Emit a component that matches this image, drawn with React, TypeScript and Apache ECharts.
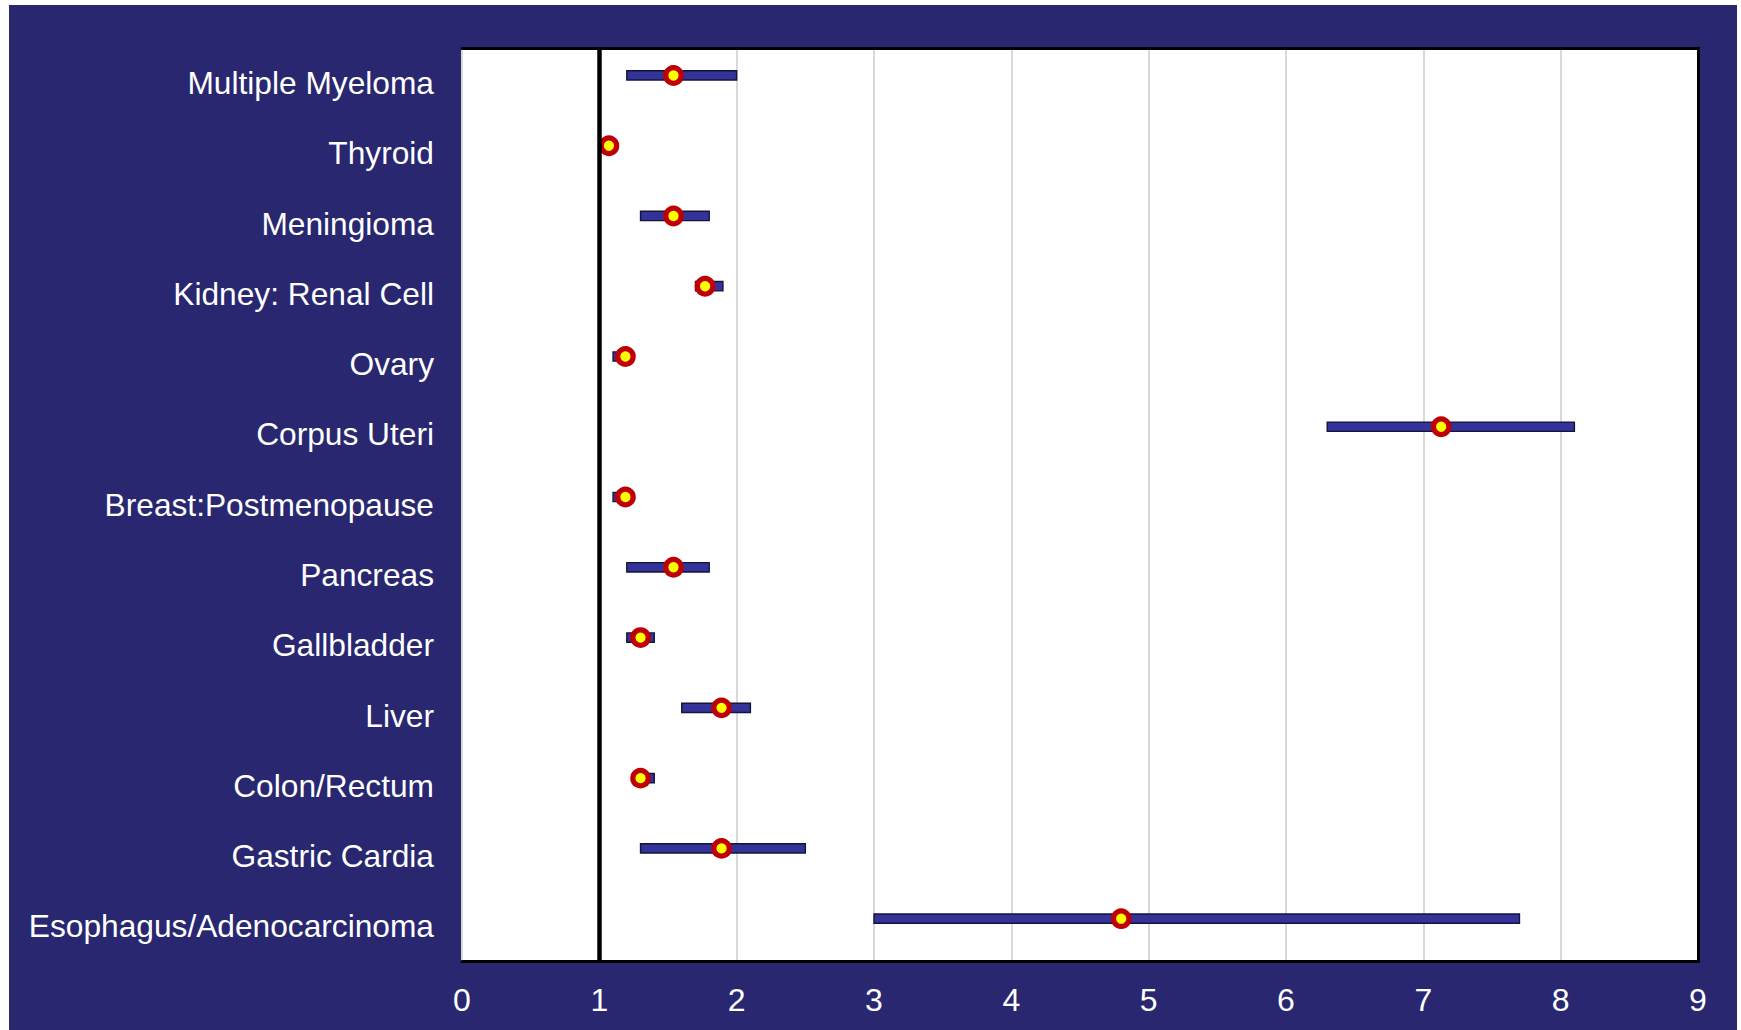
import React, { useEffect, useRef } from "react";
import * as echarts from "echarts";

// Cancer sites, top to bottom
const categories = [
  "Multiple Myeloma",
  "Thyroid",
  "Meningioma",
  "Kidney: Renal Cell",
  "Ovary",
  "Corpus Uteri",
  "Breast:Postmenopause",
  "Pancreas",
  "Gallbladder",
  "Liver",
  "Colon/Rectum",
  "Gastric Cardia",
  "Esophagus/Adenocarcinoma",
];

// Point estimate of relative risk per site
const riskEstimates = [1.54, 1.07, 1.54, 1.77, 1.19, 7.13, 1.19, 1.54, 1.3, 1.89, 1.3, 1.89, 4.8];

// Confidence interval bounds (null where no interval is drawn)
const ciLow: (number | null)[] = [1.2, null, 1.3, 1.7, 1.1, 6.3, 1.1, 1.2, 1.2, 1.6, 1.3, 1.3, 3.0];
const ciHigh: (number | null)[] = [2.0, null, 1.8, 1.9, 1.2, 8.1, 1.2, 1.8, 1.4, 2.1, 1.4, 2.5, 7.7];

// Horizontal axis range and reference value
const xMin = 0;
const xMax = 9;
const xStep = 1;
const referenceRisk = 1;

const NAVY = "#282770";
const FONT = "'Liberation Sans', Arial, Helvetica, sans-serif";

export default function App() {
  const ref = useRef<HTMLDivElement>(null);

  useEffect(() => {
    if (!ref.current) return;
    const chart = echarts.init(ref.current, undefined, { renderer: "svg" });

    const intervalData = categories
      .map((_, i) => [i, ciLow[i], ciHigh[i]])
      .filter((d) => d[1] != null && d[2] != null);

    const pointData = riskEstimates.map((v, i) => [v, i]);

    const option: any = {
      animation: false,
      backgroundColor: NAVY,
      textStyle: { fontFamily: FONT },
      grid: {
        left: 453,
        top: 43,
        width: 1236,
        height: 913.5,
        show: true,
        backgroundColor: "#ffffff",
        borderWidth: 0,
        containLabel: false,
      },
      xAxis: [
        {
          type: "value",
          position: "bottom",
          min: xMin,
          max: xMax,
          interval: xStep,
          axisLine: { show: true, lineStyle: { color: "#000000", width: 3 } },
          axisTick: { show: false },
          axisLabel: {
            color: "#ffffff",
            fontSize: 32,
            fontFamily: FONT,
            margin: 22,
          },
          splitLine: {
            show: true,
            showMaxLine: false,
            lineStyle: { color: "#d9d9d9", width: 2 },
          },
        },
        {
          type: "value",
          position: "top",
          min: xMin,
          max: xMax,
          interval: xStep,
          axisLine: { show: true, lineStyle: { color: "#000000", width: 3 } },
          axisTick: { show: false },
          axisLabel: { show: false },
          splitLine: { show: false },
        },
      ],
      yAxis: [
        {
          type: "category",
          data: categories,
          inverse: true,
          position: "left",
          axisLine: { show: false },
          axisTick: { show: false },
          splitLine: { show: false },
          axisLabel: {
            color: "#ffffff",
            fontSize: 31.7,
            fontFamily: FONT,
            margin: 28,
            align: "right",
          },
        },
        {
          type: "category",
          data: categories,
          inverse: true,
          position: "right",
          axisLine: { show: true, onZero: false, lineStyle: { color: "#000000", width: 3 } },
          axisTick: { show: false },
          axisLabel: { show: false },
          splitLine: { show: false },
        },
      ],
      series: [
        {
          type: "custom",
          name: "CI",
          xAxisIndex: 0,
          yAxisIndex: 0,
          z: 2,
          encode: { x: [1, 2], y: 0 },
          data: intervalData,
          renderItem: (params: any, api: any) => {
            const cat = api.value(0);
            const start = api.coord([api.value(1), cat]);
            const end = api.coord([api.value(2), cat]);
            const band = api.size([0, 1])[1];
            const h = band * 0.132;
            const off = -band * 0.11;
            return {
              type: "rect",
              shape: {
                x: start[0],
                y: start[1] + off - h / 2,
                width: end[0] - start[0],
                height: h,
              },
              style: {
                fill: "#333399",
                stroke: "#15153a",
                lineWidth: 1.4,
              },
            };
          },
          markLine: {
            silent: true,
            symbol: "none",
            label: { show: false },
            lineStyle: { color: "#000000", width: 4.5, type: "solid" },
            data: [{ xAxis: referenceRisk }],
          },
        },
        {
          type: "scatter",
          name: "Relative risk",
          xAxisIndex: 0,
          yAxisIndex: 0,
          z: 4,
          symbol: "circle",
          symbolSize: 15.5,
          symbolOffset: [0, -7.7],
          itemStyle: {
            color: "#ffff00",
            borderColor: "#c00000",
            borderWidth: 5.2,
            opacity: 1,
          },
          data: pointData,
        },
      ],
    };

    chart.setOption(option);
    return () => chart.dispose();
  }, []);

  return (
    <div
      style={{
        position: "fixed",
        left: 0,
        top: 0,
        width: 1741,
        height: 1030,
        background: "#ffffff",
        overflow: "hidden",
      }}
    >
      <div
        ref={ref}
        style={{ position: "absolute", left: 9, top: 5, width: 1728, height: 1025 }}
      />
    </div>
  );
}
